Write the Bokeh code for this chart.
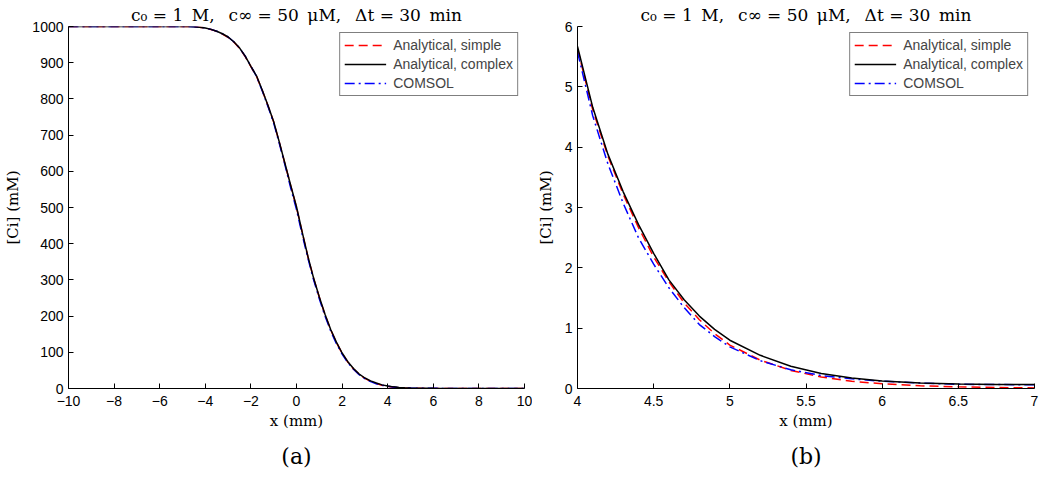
from bokeh.plotting import figure
from bokeh.layouts import row
from bokeh.models import Legend, LegendItem, Title, FixedTicker, Range1d
from bokeh.embed import file_html
from bokeh.resources import INLINE

# ---------------- data ----------------
title_text = "c\u2080 = 1\u2002M,\u2002 c\u221e = 50\u2002\u03bcM,\u2002 \u0394t = 30\u2002min"
x_label = "x (mm)"
y_label = "[Ci] (mM)"
series_names = ["Analytical, simple", "Analytical, complex", "COMSOL"]

# panel (a)
x_a = [-10, -9, -8, -7, -6, -5, -4.75, -4.5, -4.25, -4, -3.75, -3.5, -3.25, -3, -2.75,
       -2.5, -2.25, -2, -1.75, -1.5, -1.25, -1, -0.75, -0.5, -0.25, 0, 0.25, 0.5, 0.75,
       1, 1.25, 1.5, 1.75, 2, 2.25, 2.5, 2.75, 3, 3.25, 3.5, 3.75, 4, 4.25, 4.5, 4.75,
       5, 6, 7, 8, 9, 10]
complex_a = [1000, 1000, 1000, 1000, 1000, 1000, 999.8, 999.3, 998, 996, 992, 987, 980, 971, 958,
             941, 918, 890, 863, 824, 782, 737, 680, 620, 560, 502, 432, 365, 305,
             253, 205, 163, 128, 98, 74, 55, 40, 29, 21, 15, 10, 7, 4.5, 3, 2,
             1.3, 0.4, 0.15, 0.07, 0.06, 0.05]
simple_a = [1000, 1000, 1000, 1000, 1000, 1000, 999.8, 999.2, 998, 995.5, 991.5, 986.5, 979, 970, 957,
            940, 917, 889, 862, 823, 781, 736, 679, 619, 559, 500, 431, 364, 304,
            252, 204, 162, 127, 97, 73, 54, 39, 28, 20, 14, 9, 6, 3.5, 2, 1,
            0.5, 0.1, 0.03, 0.01, 0.0, 0.0]
comsol_a = [1000, 1000, 1000, 1000, 1000, 1000, 999.8, 999.3, 998, 996, 992, 987, 980, 971, 958,
            941, 918, 890, 862, 822, 779, 733, 676, 616, 553, 494, 425, 360, 300,
            248, 200, 159, 124, 95, 71, 53, 38, 27, 19, 13, 9, 6, 4, 2.7, 1.8,
            1.2, 0.4, 0.15, 0.07, 0.06, 0.05]
xticks_a = [-10, -8, -6, -4, -2, 0, 2, 4, 6, 8, 10]
xticklabels_a = ["\u221210", "\u22128", "\u22126", "\u22124", "\u22122", "0", "2", "4", "6", "8", "10"]
yticks_a = [0, 100, 200, 300, 400, 500, 600, 700, 800, 900, 1000]
yticklabels_a = ["0", "100", "200", "300", "400", "500", "600", "700", "800", "900", "1000"]

# panel (b)
x_b = [4.0, 4.1, 4.2, 4.3, 4.4, 4.5, 4.6, 4.7, 4.8, 4.9, 5.0, 5.2, 5.4, 5.6, 5.8, 6.0,
       6.25, 6.5, 6.75, 7.0]
complex_b = [5.67, 4.66, 3.88, 3.26, 2.72, 2.24, 1.80, 1.47, 1.20, 0.98, 0.80, 0.55, 0.37, 0.25,
             0.175, 0.125, 0.09, 0.075, 0.068, 0.066]
simple_b = [5.63, 4.62, 3.85, 3.22, 2.67, 2.18, 1.77, 1.42, 1.14, 0.91, 0.72, 0.47, 0.30, 0.19,
            0.12, 0.078, 0.045, 0.027, 0.016, 0.01]
comsol_b = [5.58, 4.52, 3.72, 3.07, 2.50, 2.06, 1.67, 1.34, 1.06, 0.86, 0.69, 0.46, 0.31, 0.215,
            0.16, 0.12, 0.09, 0.07, 0.065, 0.063]
xticks_b = [4, 4.5, 5, 5.5, 6, 6.5, 7]
xticklabels_b = ["4", "4.5", "5", "5.5", "6", "6.5", "7"]
yticks_b = [0, 1, 2, 3, 4, 5, 6]
yticklabels_b = ["0", "1", "2", "3", "4", "5", "6"]

# ---------------- styling ----------------
SERIF = "DejaVu Serif"
SANS = "Liberation Sans"


def make_panel(xs, ys_simple, ys_complex, ys_comsol, xr, yr, xt, xtl, yt, ytl, caption,
               border_left, border_right):
    p = figure(output_backend="svg", toolbar_location=None,
               frame_width=456, frame_height=362,
               min_border_left=border_left, min_border_right=border_right,
               min_border_top=26, min_border_bottom=93,
               x_range=Range1d(*xr), y_range=Range1d(*yr))
    p.outline_line_color = None
    p.grid.visible = False
    p.background_fill_color = "white"
    p.border_fill_color = "white"

    p.title = Title(text=title_text, align="center", text_font=SERIF,
                    text_font_style="normal", text_font_size="17px",
                    text_color="black", standoff=3)

    for ax, ticks, labels in ((p.xaxis[0], xt, xtl), (p.yaxis[0], yt, ytl)):
        ax.ticker = FixedTicker(ticks=ticks)
        ax.major_label_overrides = {t: l for t, l in zip(ticks, labels)}
        ax.major_tick_in = 5
        ax.major_tick_out = 0
        ax.minor_tick_line_color = None
        ax.axis_line_color = "black"
        ax.major_tick_line_color = "black"
        ax.major_label_text_font = SANS
        ax.major_label_text_font_size = "14px"
        ax.major_label_text_color = "black"
        ax.axis_label_text_font = SERIF
        ax.axis_label_text_font_style = "normal"
        ax.axis_label_text_font_size = "15px"
        ax.axis_label_text_color = "black"
    p.xaxis.axis_label = x_label
    p.yaxis.axis_label = y_label
    p.xaxis.major_label_standoff = 7
    p.xaxis.axis_label_standoff = 3
    p.yaxis.major_label_standoff = 5
    p.yaxis.axis_label_standoff = 7

    r1 = p.line(xs, ys_simple, line_color="#ff0000", line_width=1.5, line_dash="9 5")
    r3 = p.line(xs, ys_comsol, line_color="#0000ff", line_width=1.5, line_dash="10 4 2 4")
    r2 = p.line(xs, ys_complex, line_color="black", line_width=1.5)

    legend = Legend(items=[LegendItem(label=series_names[0], renderers=[r1]),
                           LegendItem(label=series_names[1], renderers=[r2]),
                           LegendItem(label=series_names[2], renderers=[r3])],
                    location="top_right", margin=6, padding=4, spacing=3,
                    glyph_width=42, glyph_height=16, label_height=16,
                    label_standoff=7,
                    label_text_font=SANS, label_text_font_size="14px",
                    border_line_color="black", border_line_width=1,
                    background_fill_color="white", background_fill_alpha=1)
    p.add_layout(legend)

    p.add_layout(Title(text=caption, align="center", text_font=SERIF,
                       text_font_style="normal", text_font_size="22px",
                       text_color="black", standoff=19), "below")
    return p


pa = make_panel(x_a, simple_a, complex_a, comsol_a, (-10, 10), (0, 1000),
                xticks_a, xticklabels_a, yticks_a, yticklabels_a, "(a)", 68, 8)
pb = make_panel(x_b, simple_b, complex_b, comsol_b, (4, 7), (0, 6),
                xticks_b, xticklabels_b, yticks_b, yticklabels_b, "(b)", 45, 11)
pb.frame_width = 457

layout = row(pa, pb, spacing=0)
open("out.html", "w").write(file_html(layout, INLINE))
